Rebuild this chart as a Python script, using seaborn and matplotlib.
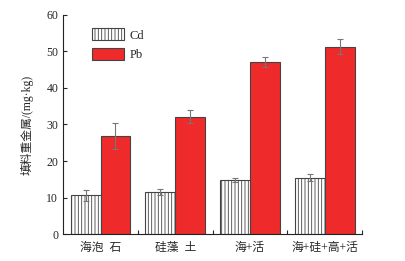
import numpy as np
import pandas as pd
import seaborn as sns
import matplotlib.pyplot as plt
from matplotlib.ticker import FixedLocator

sns.set_style("ticks")
plt.rcParams['font.family'] = ['Liberation Serif', 'Noto Sans CJK SC']
plt.rcParams['hatch.color'] = '#8a8a8a'
plt.rcParams['hatch.linewidth'] = 0.6

materials = ["海泡  石", "硅藻  土", "海+活", "海+硅+高+活"]
cd_mean = [10.6, 11.5, 14.8, 15.4]
cd_err = [1.6, 0.8, 0.5, 1.0]
pb_mean = [26.9, 32.1, 47.1, 51.3]
pb_err = [3.5, 1.8, 1.4, 2.1]

df = pd.DataFrame({
    "Material": materials * 2,
    "Metal": ["Cd"] * 4 + ["Pb"] * 4,
    "Mean": cd_mean + pb_mean,
    "Err": cd_err + pb_err,
})

fig = plt.figure(figsize=(4.05, 2.61), dpi=100)
ax = fig.add_axes([0.156, 0.103, 0.738, 0.84])

sns.barplot(data=df, x="Material", y="Mean", hue="Metal",
            palette={"Cd": "white", "Pb": "#ee2a2a"}, saturation=1,
            errorbar=None, width=0.8, ax=ax,
            edgecolor="#444444", linewidth=0.8)

# hatch the Cd bars and add error bars
for container, metal in zip(ax.containers, ["Cd", "Pb"]):
    sub = df[df["Metal"] == metal]
    for bar, (_, row) in zip(container, sub.iterrows()):
        if metal == "Cd":
            bar.set_hatch("|||||")
        x = bar.get_x() + bar.get_width() / 2
        ax.errorbar(x=x, y=row["Mean"], yerr=row["Err"], fmt='none',
                    ecolor='#777777', elinewidth=0.8, capsize=2.5, capthick=0.8)

# legend handles need the hatch too
handles, labels = ax.get_legend_handles_labels()
handles[0].set_hatch("|||||")
ax.legend(handles, labels, loc="upper left", bbox_to_anchor=(0.06, 0.99),
          frameon=False, fontsize=9, handlelength=2.5, handleheight=1.1,
          labelspacing=0.5, handletextpad=0.5)

ax.set_xlim(-0.5, 3.5)
ax.set_ylim(0, 60)
ax.set_yticks(range(0, 61, 10))
ax.set_xlabel("")
ax.set_ylabel("填料重金属/(mg·kg)", fontsize=8.5, labelpad=9)
ax.tick_params(axis='x', which='major', length=0, labelsize=8.5, pad=6)
ax.xaxis.set_minor_locator(FixedLocator([0.5, 1.5, 2.5, 3.5]))
ax.tick_params(axis='x', which='minor', direction='in', length=3, width=0.8)
ax.tick_params(axis='y', direction='in', length=3, width=0.8, labelsize=8.5)

sns.despine(ax=ax)
for s in ["left", "bottom"]:
    ax.spines[s].set_linewidth(0.8)
    ax.spines[s].set_color("#222222")

fig.savefig("out.png", dpi=100)
